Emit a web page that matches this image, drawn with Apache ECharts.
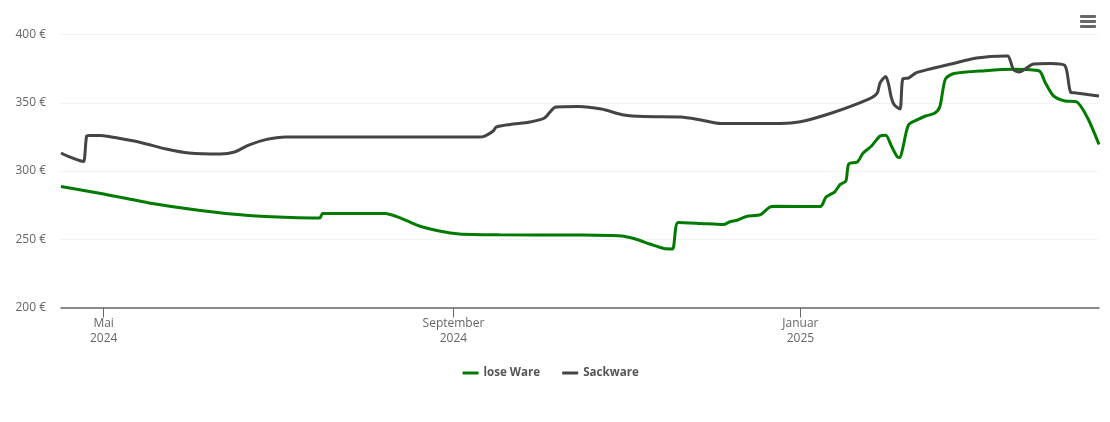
<!DOCTYPE html>
<html>
<head>
<meta charset="utf-8">
<title>Preisentwicklung</title>
<style>
  html, body { margin: 0; padding: 0; background: #fff; }
  #chart { width: 1110px; height: 422px; }
</style>
<script src="https://cdn.jsdelivr.net/npm/echarts@6/dist/echarts.min.js"></script>
</head>
<body>
<div id="chart"></div>
<script>
var tickDates = ['2024-05-01', '2024-09-01', '2025-01-01'];
var tickLabels = ['Mai\n2024', 'September\n2024', 'Januar\n2025'];
var yTicks = [200, 250, 300, 350, 400];

var loseDates = ['2024-04-16','2024-04-30','2024-05-17','2024-06-04','2024-06-21','2024-07-06','2024-07-16','2024-07-17','2024-08-08','2024-08-13','2024-08-20','2024-08-27','2024-09-03','2024-09-17','2024-10-15','2024-10-30','2024-11-04','2024-11-09','2024-11-14','2024-11-17','2024-11-19','2024-11-27','2024-12-05','2024-12-07','2024-12-10','2024-12-13','2024-12-18','2024-12-21','2024-12-23','2025-01-08','2025-01-10','2025-01-13','2025-01-15','2025-01-17','2025-01-18','2025-01-21','2025-01-23','2025-01-26','2025-01-29','2025-01-31','2025-02-02','2025-02-04','2025-02-05','2025-02-06','2025-02-08','2025-02-11','2025-02-14','2025-02-17','2025-02-19','2025-02-21','2025-02-24','2025-03-07','2025-03-17','2025-03-26','2025-03-28','2025-03-31','2025-04-04','2025-04-08','2025-04-12','2025-04-16'];
var loseValues = [288.6,283.5,276.6,271.1,267.4,265.9,265.6,268.9,268.9,265.9,259.7,256,253.9,253.3,253.1,252.4,250.2,246.5,243.2,242.9,262.3,261.6,260.8,262.6,264.1,266.7,268.1,273.3,274.1,274,281,284.6,290.2,292.7,305.1,306.6,313,318.3,325.6,326.2,318.3,310.6,309.9,316.8,333.7,337.4,340.3,342.1,346.9,367.4,371.4,373.5,374.5,373.3,365.2,355,351.3,350.8,338.8,319.4];

var sackDates = ['2024-04-16','2024-04-19','2024-04-23','2024-04-24','2024-04-25','2024-04-26','2024-04-30','2024-05-05','2024-05-14','2024-05-23','2024-05-31','2024-06-11','2024-06-16','2024-06-21','2024-06-27','2024-07-04','2024-07-16','2024-09-10','2024-09-12','2024-09-15','2024-09-16','2024-09-21','2024-09-28','2024-10-03','2024-10-07','2024-10-15','2024-10-23','2024-10-31','2024-11-07','2024-11-20','2024-11-27','2024-12-04','2024-12-25','2025-01-01','2025-01-12','2025-01-25','2025-01-28','2025-01-29','2025-01-31','2025-02-01','2025-02-02','2025-02-03','2025-02-05','2025-02-06','2025-02-08','2025-02-11','2025-02-23','2025-03-04','2025-03-14','2025-03-15','2025-03-17','2025-03-19','2025-03-21','2025-03-24','2025-03-30','2025-04-04','2025-04-06','2025-04-08','2025-04-12','2025-04-16'];
var sackValues = [313.2,310.3,307.3,307,325.5,326,326,324.5,320.9,316.1,313.2,312.5,313.9,319,323,324.9,324.9,324.9,325.6,329.3,332.2,334.1,335.9,338.8,346.9,347.3,345.4,341,339.9,339.6,337.4,334.8,334.8,336.1,342.5,352.7,357.1,364.5,369.2,363.7,353.5,348.4,345.4,367.4,368.1,372.2,378.4,382.8,384.2,384.2,374,372.5,374.7,378.4,378.8,377.3,357.9,357.2,356,354.9];

function toTime(d) {
    return Date.UTC(+d.slice(0, 4), +d.slice(5, 7) - 1, +d.slice(8, 10));
}
function pairs(dates, values) {
    return dates.map(function (d, i) { return [toTime(d), values[i]]; });
}

var tickTimes = tickDates.map(toTime);
var fontName = '"Open Sans", "Noto Sans", sans-serif';

var chart = echarts.init(document.getElementById('chart'), null, { renderer: 'canvas' });
chart.setOption({
    animation: false,
    grid: { left: 61, right: 11, top: 34.5, height: 273, containLabel: false },
    legend: {
        top: 362,
        left: 457.5,
        itemWidth: 16,
        itemHeight: 3,
        itemGap: 22,
        icon: 'roundRect',
        textStyle: { color: '#555', fontFamily: fontName, fontSize: 11.6, fontWeight: 'bold' },
        data: ['lose Ware', 'Sackware']
    },
    xAxis: {
        type: 'value',
        min: toTime('2024-04-16'),
        max: toTime('2025-04-16'),
        splitLine: { show: false },
        axisLine: { onZero: false, lineStyle: { color: '#666', width: 1.5 } },
        axisTick: { customValues: tickTimes, length: 10, lineStyle: { color: '#666' } },
        axisLabel: {
            customValues: tickTimes,
            color: '#666',
            fontFamily: fontName,
            fontSize: 12,
            lineHeight: 15,
            margin: 9,
            hideOverlap: false,
            formatter: function (val) {
                return tickLabels[tickTimes.indexOf(val)] || '';
            }
        }
    },
    yAxis: {
        type: 'value',
        min: yTicks[0],
        max: yTicks[yTicks.length - 1],
        interval: 50,
        axisLine: { show: false },
        axisTick: { show: false },
        splitLine: { lineStyle: { color: '#e6e6e6', type: 'dotted', width: 1 } },
        axisLabel: {
            color: '#666',
            fontFamily: fontName,
            fontSize: 12,
            margin: 15,
            padding: [3, 0, 0, 0],
            formatter: '{value} €'
        }
    },
    series: [
        {
            name: 'lose Ware',
            type: 'line',
            data: pairs(loseDates, loseValues),
            showSymbol: false,
            smooth: 0.25,
            lineStyle: { color: '#007a00', width: 3 },
            itemStyle: { color: '#007a00' }
        },
        {
            name: 'Sackware',
            type: 'line',
            data: pairs(sackDates, sackValues),
            showSymbol: false,
            smooth: 0.25,
            lineStyle: { color: '#444', width: 3 },
            itemStyle: { color: '#444' }
        }
    ],
    // export menu icon, top right
    graphic: [
        { type: 'rect', shape: { x: 1080, y: 15, width: 16, height: 3, r: 1 }, style: { fill: '#666' } },
        { type: 'rect', shape: { x: 1080, y: 20, width: 16, height: 3, r: 1 }, style: { fill: '#666' } },
        { type: 'rect', shape: { x: 1080, y: 25, width: 16, height: 3, r: 1 }, style: { fill: '#666' } }
    ]
});
</script>
</body>
</html>
